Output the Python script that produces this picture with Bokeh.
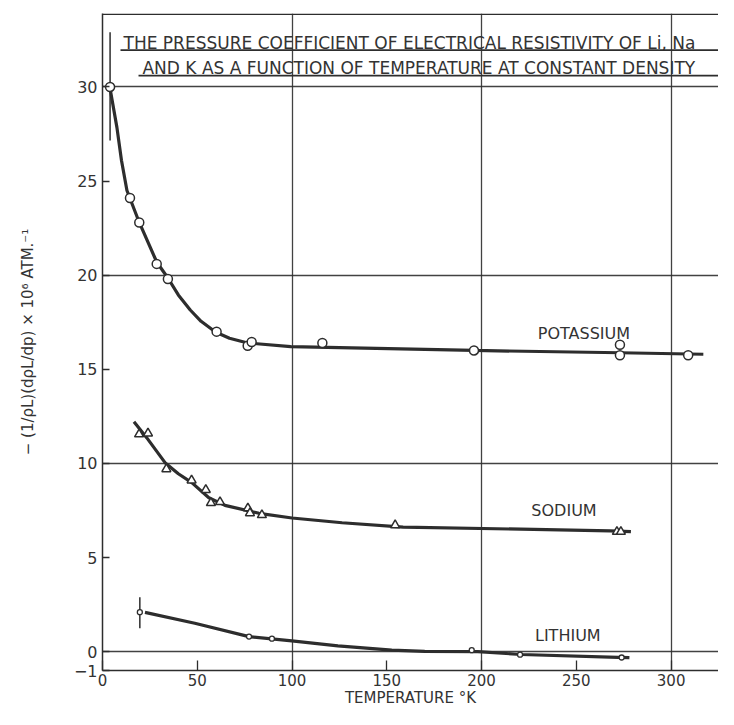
from bokeh.plotting import figure
from bokeh.models import FixedTicker, Span, Range1d
from bokeh.core.properties import value
from bokeh.embed import file_html
from bokeh.resources import INLINE

# ---------------- data ----------------
# Potassium (open circles)
k_T = [4, 14.5, 19.4, 28.6, 34.5, 60.2, 76.6, 78.7, 116, 196, 273, 273, 309]
k_R = [30.0, 24.1, 22.8, 20.6, 19.8, 17.0, 16.25, 16.45, 16.4, 16.0, 16.3, 15.75, 15.75]
k_curve_T = [4.2, 7.6, 10.0, 12.9, 19.4, 28.6, 34.5, 40.0, 46.3, 52.0, 59.6, 67.0, 76.6, 99.3, 196, 273, 317]
k_curve_R = [29.8, 27.85, 26.1, 24.5, 22.8, 20.7, 19.85, 18.95, 18.15, 17.55, 16.98, 16.65, 16.4, 16.2, 16.0, 15.88, 15.8]

# Sodium (open triangles)
na_T = [19.3, 24.0, 33.7, 47.0, 54.5, 57.2, 62.0, 76.7, 77.8, 84.1, 154.4, 271.4, 273.5]
na_R = [11.55, 11.6, 9.7, 9.1, 8.6, 7.9, 7.95, 7.62, 7.36, 7.26, 6.72, 6.37, 6.37]
na_curve_T = [16.6, 23.3, 33.0, 40.0, 47.1, 56.1, 64.6, 82.6, 100.0, 126.4, 158.6, 267.8, 278.8]
na_curve_R = [12.22, 11.37, 10.04, 9.45, 8.98, 8.18, 7.77, 7.35, 7.1, 6.85, 6.62, 6.42, 6.38]

# Lithium (small circles)
li_T = [19.7, 77.3, 89.4, 194.8, 220.3, 273.9]
li_R = [2.1, 0.8, 0.69, 0.08, -0.16, -0.31]
li_curve_T = [22.4, 48.7, 77.3, 99.9, 124.2, 152.6, 170, 198, 221, 272, 278]
li_curve_R = [2.09, 1.51, 0.8, 0.57, 0.31, 0.08, 0.02, 0.0, -0.15, -0.30, -0.32]

# error bars (K at lowest T, Li at lowest T)
err_T = [4, 19.7]
err_lo = [27.15, 1.24]
err_hi = [32.9, 2.89]

# axes
x_ticks = [0, 50, 100, 150, 200, 250, 300]
x_grid = [100, 200, 300]
y_ticks = [-1, 0, 5, 10, 15, 20, 25, 30]
y_grid = [0, 10, 20, 30]

series_names = ["POTASSIUM", "SODIUM", "LITHIUM"]
series_label_T = [254.0, 243.5, 245.5]
series_label_R = [16.9, 7.5, 0.86]

title_lines = ["THE PRESSURE COEFFICIENT OF ELECTRICAL RESISTIVITY OF Li, Na",
               "AND K AS A FUNCTION OF TEMPERATURE AT CONSTANT DENSITY"]
x_label = "TEMPERATURE °K"
y_label = "− (1/ρL)(dρL/dp) × 10⁶ ATM.⁻¹"

# ---------------- styling ----------------
INK = "#2d2d2d"
TXT = "#333333"
FONT = "DejaVu Sans"
X_END = 325.0
Y_END = 33.9

p = figure(width=718, height=709, output_backend="svg", toolbar_location=None,
           x_range=Range1d(0, X_END), y_range=Range1d(-1, Y_END),
           min_border_left=102, min_border_right=0, min_border_top=13,
           min_border_bottom=39)
p.outline_line_color = None
p.background_fill_color = "white"
p.border_fill_color = "white"

# grid
p.xgrid.ticker = FixedTicker(ticks=x_grid)
p.ygrid.ticker = FixedTicker(ticks=y_grid)
p.grid.grid_line_color = INK
p.grid.grid_line_width = 1.3
p.grid.grid_line_alpha = 0.9

# frame top line
p.add_layout(Span(location=Y_END - 0.04, dimension="width", line_color=INK, line_width=1.5))

# axes
for ax in (p.xaxis, p.yaxis):
    ax.axis_line_color = INK
    ax.axis_line_width = 1.5
    ax.major_tick_line_color = INK
    ax.major_tick_line_width = 1.3
    ax.minor_tick_line_color = None
    ax.major_tick_out = 0
    ax.major_label_text_font = FONT
    ax.major_label_text_color = TXT
    ax.axis_label_text_font = FONT
    ax.axis_label_text_font_style = "normal"
    ax.axis_label_text_color = TXT

p.xaxis.ticker = FixedTicker(ticks=x_ticks)
p.yaxis.ticker = FixedTicker(ticks=y_ticks)
p.xaxis.major_tick_in = 10
p.yaxis.major_tick_in = 7
p.xaxis.major_label_text_font_size = "15px"
p.yaxis.major_label_text_font_size = "16px"
p.xaxis.major_label_standoff = 3
p.yaxis.major_label_standoff = 5

p.xaxis.axis_label = x_label
p.xaxis.axis_label_text_font_size = "15px"
p.xaxis.axis_label_standoff = 0

p.yaxis.axis_label = y_label
p.yaxis.axis_label_text_font_size = "15px"
p.yaxis.axis_label_standoff = 34

# title inside the frame
title_x = [11.1, 21.1]
title_y = [32.35, 31.02]
p.text(x=title_x, y=title_y, text=title_lines, text_font=value(FONT),
       text_font_size="17px", text_color=TXT, text_baseline="middle",
       text_align="left")
p.segment(x0=[9.5, 19.0], y0=[31.95, 30.6], x1=[X_END, X_END], y1=[31.95, 30.6],
          line_color=INK, line_width=1.8)

# curves
p.line(k_curve_T, k_curve_R, line_color=INK, line_width=3.2)
p.line(na_curve_T, na_curve_R, line_color=INK, line_width=3.2)
p.line(li_curve_T, li_curve_R, line_color=INK, line_width=3.2)

# error bars
p.segment(x0=err_T, y0=err_lo, x1=err_T, y1=err_hi, line_color=INK, line_width=1.5)

# markers
p.scatter(k_T, k_R, marker="circle", size=9, fill_color="white",
          line_color=INK, line_width=1.5)
p.scatter(na_T, na_R, marker="triangle", size=9, fill_color="white",
          line_color=INK, line_width=1.5)
p.scatter(li_T, li_R, marker="circle", size=5, fill_color="white",
          line_color=INK, line_width=1.3)

# series labels
p.text(x=series_label_T, y=series_label_R, text=series_names, text_font=value(FONT),
       text_font_size="16px", text_color=TXT, text_align="center",
       text_baseline="middle")

open("out.html", "w").write(file_html(p, INLINE))
